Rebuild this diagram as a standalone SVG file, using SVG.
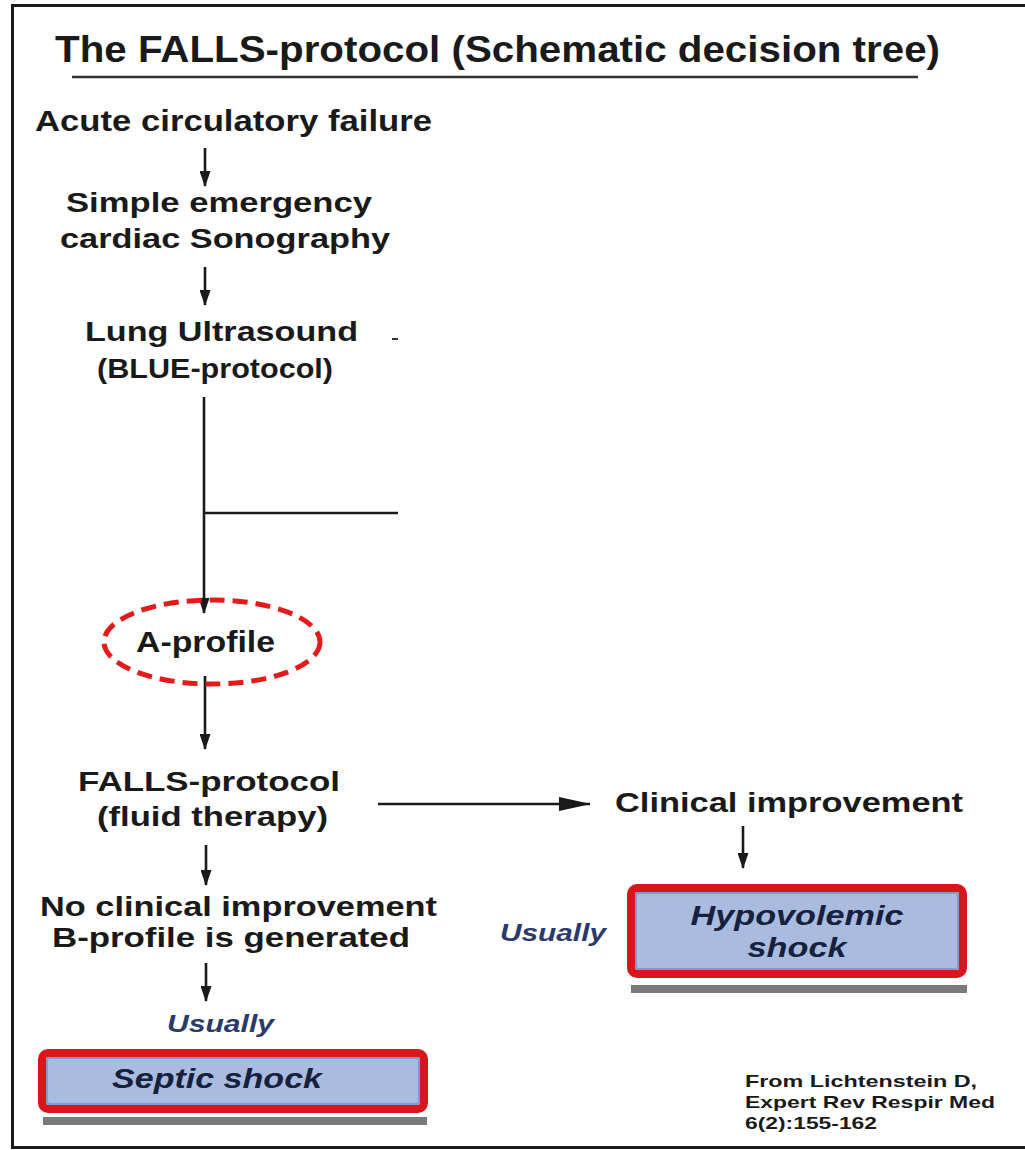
<svg xmlns="http://www.w3.org/2000/svg" width="1025" height="1150" viewBox="0 0 1025 1150">
<defs>
<style>
.t{font-family:"Liberation Sans",Arial,sans-serif;font-weight:bold;fill:#1a1a1a}
.u{font-family:"Liberation Sans",Arial,sans-serif;font-weight:bold;font-style:italic;fill:#2b3a6b}
.b{font-family:"Liberation Sans",Arial,sans-serif;font-weight:bold;font-style:italic;fill:#17203d}
.c{stroke:#1a1a1a;stroke-width:2.6;fill:none}
.box{fill:#a9bce0;stroke:#d9161c;stroke-width:8}
.inner{fill:none;stroke:#8499c9;stroke-width:2}
.sh{fill:#7a7a7a}
</style>
<marker id="ah" viewBox="0 0 16 11" refX="15" refY="5.5" markerWidth="16" markerHeight="11" markerUnits="userSpaceOnUse" orient="auto">
<path d="M0,0 L16,5.5 L0,11 z" fill="#1a1a1a"/>
</marker>
<marker id="ah2" viewBox="0 0 32 14" refX="31" refY="7" markerWidth="32" markerHeight="14" markerUnits="userSpaceOnUse" orient="auto">
<path d="M0,0 L32,7 L0,14 z" fill="#1a1a1a"/>
</marker>
</defs>
<rect x="0" y="0" width="1025" height="1150" fill="#ffffff"/>
<path d="M1030,5.5 L12.5,5.5 L12.5,1147.5 L1030,1147.5" fill="none" stroke="#1a1a1a" stroke-width="3"/>

<g id="title">
<text class="t" x="55" y="62" font-size="36" textLength="885" lengthAdjust="spacingAndGlyphs">The FALLS-protocol (Schematic decision tree)</text>
<line x1="72" y1="77" x2="918" y2="77" stroke="#333" stroke-width="2.5"/>
</g>

<g id="connectors">
<line class="c" x1="205" y1="148" x2="205" y2="186" marker-end="url(#ah)"/>
<line class="c" x1="205" y1="267" x2="205" y2="305" marker-end="url(#ah)"/>
<line class="c" x1="204" y1="397" x2="204" y2="613" marker-end="url(#ah)"/>
<line class="c" x1="204" y1="513" x2="398" y2="513"/>
<line class="c" x1="205" y1="676" x2="205" y2="749" marker-end="url(#ah)"/>
<line class="c" x1="378" y1="804" x2="590" y2="804" marker-end="url(#ah2)"/>
<line class="c" x1="743" y1="826" x2="743" y2="868" marker-end="url(#ah)"/>
<line class="c" x1="206" y1="845" x2="206" y2="885" marker-end="url(#ah)"/>
<line class="c" x1="206" y1="963" x2="206" y2="1001" marker-end="url(#ah)"/>
</g>

<g id="acute">
<text class="t" x="35" y="131" font-size="30" textLength="397" lengthAdjust="spacingAndGlyphs">Acute circulatory failure</text>
</g>

<g id="cardiac">
<text class="t" x="66" y="212" font-size="28" textLength="306" lengthAdjust="spacingAndGlyphs">Simple emergency</text>
<text class="t" x="60" y="248" font-size="28" textLength="330" lengthAdjust="spacingAndGlyphs">cardiac Sonography</text>
</g>

<g id="lung">
<text class="t" x="85" y="341" font-size="28" textLength="273" lengthAdjust="spacingAndGlyphs">Lung Ultrasound</text>
<line x1="392" y1="339" x2="398" y2="339" stroke="#333" stroke-width="2"/>
<text class="t" x="97" y="378" font-size="27" textLength="236" lengthAdjust="spacingAndGlyphs">(BLUE-protocol)</text>
</g>

<g id="aprofile">
<ellipse cx="212" cy="642" rx="108" ry="42" fill="none" stroke="#e31b1b" stroke-width="5" stroke-dasharray="15 8"/>
<text class="t" x="136" y="652" font-size="30" textLength="139" lengthAdjust="spacingAndGlyphs">A-profile</text>
</g>

<g id="falls">
<text class="t" x="78" y="791" font-size="28" textLength="262" lengthAdjust="spacingAndGlyphs">FALLS-protocol</text>
<text class="t" x="97" y="826" font-size="28" textLength="231" lengthAdjust="spacingAndGlyphs">(fluid therapy)</text>
</g>

<g id="clinical">
<text class="t" x="615" y="812" font-size="28" textLength="348" lengthAdjust="spacingAndGlyphs">Clinical improvement</text>
</g>

<g id="noclinical">
<text class="t" x="40" y="916" font-size="28" textLength="397" lengthAdjust="spacingAndGlyphs">No clinical improvement</text>
<text class="t" x="52" y="947" font-size="28" textLength="358" lengthAdjust="spacingAndGlyphs">B-profile is generated</text>
</g>

<g id="hypovolemic">
<rect class="sh" x="631" y="985" width="336" height="8"/>
<rect class="box" x="631" y="888" width="332" height="86" rx="6"/>
<rect class="inner" x="636" y="893" width="322" height="76" rx="3"/>
<text class="b" x="797" y="925" font-size="28" text-anchor="middle" textLength="213" lengthAdjust="spacingAndGlyphs">Hypovolemic</text>
<text class="b" x="797" y="957" font-size="28" text-anchor="middle" textLength="99" lengthAdjust="spacingAndGlyphs">shock</text>
<text class="u" x="500" y="941" font-size="24" textLength="106" lengthAdjust="spacingAndGlyphs">Usually</text>
</g>

<g id="septic">
<rect class="sh" x="43" y="1117" width="384" height="8"/>
<rect class="box" x="42" y="1053" width="382" height="56" rx="6"/>
<rect class="inner" x="47" y="1058" width="372" height="46" rx="3"/>
<text class="b" x="112" y="1088" font-size="28" textLength="210" lengthAdjust="spacingAndGlyphs">Septic shock</text>
<text class="u" x="167" y="1032" font-size="24" textLength="107" lengthAdjust="spacingAndGlyphs">Usually</text>
</g>

<g id="citation">
<text class="t" x="745" y="1087" font-size="17" textLength="232" lengthAdjust="spacingAndGlyphs">From Lichtenstein D,</text>
<text class="t" x="745" y="1108" font-size="17" textLength="250" lengthAdjust="spacingAndGlyphs">Expert Rev Respir Med</text>
<text class="t" x="745" y="1129" font-size="17" textLength="132" lengthAdjust="spacingAndGlyphs">6(2):155-162</text>
</g>
</svg>
